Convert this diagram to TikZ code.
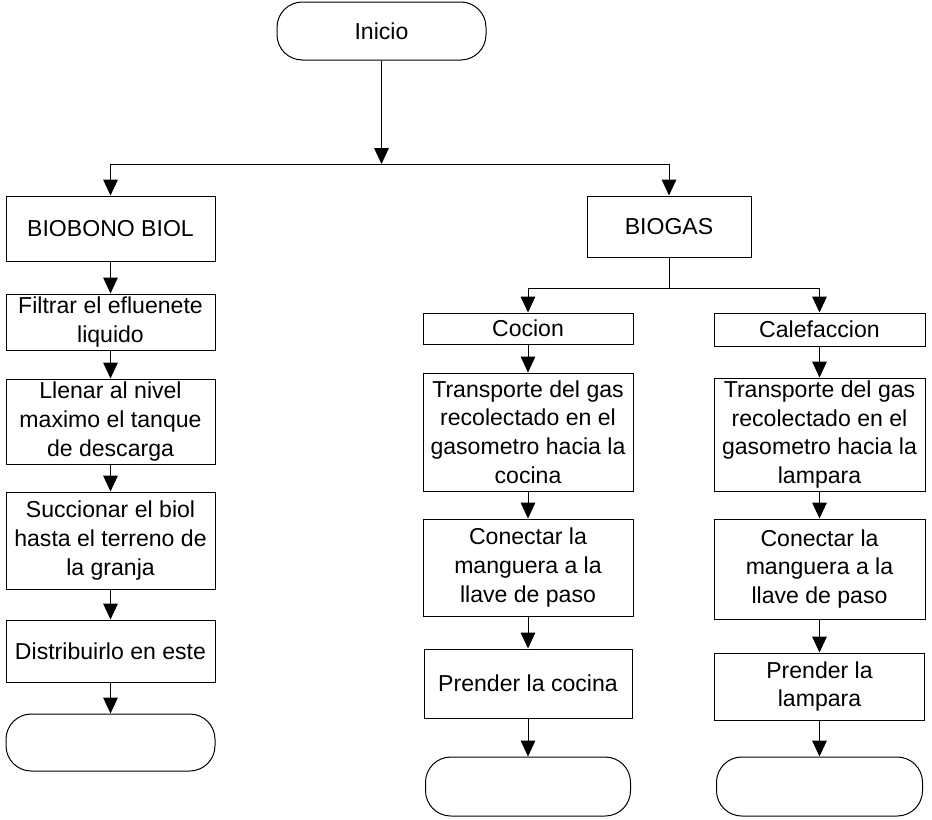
\documentclass[tikz,border=0pt]{standalone}
\usepackage{fontspec}
\setmainfont{Liberation Sans}
\usetikzlibrary{arrows.meta}

\begin{document}
\begin{tikzpicture}[x=0.75pt,y=0.75pt,yscale=-1,
  every node/.style={font=\fontsize{17.3}{21.5}\selectfont, align=center, inner sep=0pt},
  box/.style={draw, line width=0.75pt},
  term/.style={draw, line width=0.75pt, rounded corners=19pt},
  arr/.style={line width=0.75pt, -{Triangle[length=12pt,width=11pt]}},
  lin/.style={line width=0.75pt}]
\useasboundingbox (0,0) rectangle (932,819);

% Terminal Node
\node (inicio) [term, minimum width=156.75pt, minimum height=43.5pt] at (381.5,31) {Inicio};
\coordinate (j1) at (381.5,164);
\coordinate (j2) at (669,288);

% Left branch
\node (biol)  [box, minimum width=156.75pt, minimum height=48.75pt] at (110.5,228.5) {BIOBONO BIOL};
\node (filt)  [box, minimum width=156.75pt, minimum height=42pt]    at (110.5,322)   {Filtrar el efluenete\\liquido};
\node (llen)  [box, minimum width=156.75pt, minimum height=63.75pt] at (110.5,421.5) {Llenar al nivel\\maximo el tanque\\de descarga};
\node (succ)  [box, minimum width=156.75pt, minimum height=72.75pt] at (110.5,540.5) {Succionar el biol\\hasta el terreno de\\la granja};
\node (distr) [box, minimum width=156.75pt, minimum height=46.5pt]  at (110.5,651)   {Distribuirlo en este};
\node (fin1)  [term, minimum width=156.75pt, minimum height=42.75pt] at (110.5,742.5) {};

% Right branch
\node (biogas) [box, minimum width=123pt, minimum height=45.75pt] at (669,226.5) {BIOGAS};

\node (coc)   [box, minimum width=157.5pt, minimum height=23.25pt] at (528,328.5) {Cocion};
\node (tra1)  [box, minimum width=157.5pt, minimum height=88.5pt]  at (528,432)   {Transporte del gas\\recolectado en el\\gasometro hacia la\\cocina};
\node (con1)  [box, minimum width=157.5pt, minimum height=72.75pt] at (528,567.5) {Conectar la\\manguera a la\\llave de paso};
\node (pre1)  [box, minimum width=156pt,   minimum height=51.75pt] at (528,683.5) {Prender la cocina};
\node (fin2)  [term, minimum width=153.75pt, minimum height=44.25pt] at (528,786.5) {};

\node (cal)   [box, minimum width=158.25pt, minimum height=24.75pt] at (819.5,329.5) {Calefaccion};
\node (tra2)  [box, minimum width=158.25pt, minimum height=84.75pt] at (819.5,434.5) {Transporte del gas\\recolectado en el\\gasometro hacia la\\lampara};
\node (con2)  [box, minimum width=158.25pt, minimum height=75pt]    at (819.5,569)   {Conectar la\\manguera a la\\llave de paso};
\node (pre2)  [box, minimum width=157.5pt,  minimum height=50.25pt] at (819.5,686.5) {Prender la\\lampara};
\node (fin3)  [term, minimum width=154.5pt, minimum height=44.25pt] at (819.5,786.5) {};

% Connectors
\draw [arr] (inicio) -- (j1);
\draw [arr] (j1) -| (biol.north);
\draw [arr] (j1) -| (biogas.north);
\draw [arr] (biol) -- (filt);
\draw [arr] (filt) -- (llen);
\draw [arr] (llen) -- (succ);
\draw [arr] (succ) -- (distr);
\draw [arr] (distr) -- (fin1);

\draw [lin] (biogas) -- (j2);
\draw [arr] (j2) -| (coc.north);
\draw [arr] (j2) -| (cal.north);
\draw [arr] (coc) -- (tra1);
\draw [arr] (tra1) -- (con1);
\draw [arr] (con1) -- (pre1);
\draw [arr] (pre1) -- (fin2);
\draw [arr] (cal) -- (tra2);
\draw [arr] (tra2) -- (con2);
\draw [arr] (con2) -- (pre2);
\draw [arr] (pre2) -- (fin3);

\end{tikzpicture}
\end{document}
